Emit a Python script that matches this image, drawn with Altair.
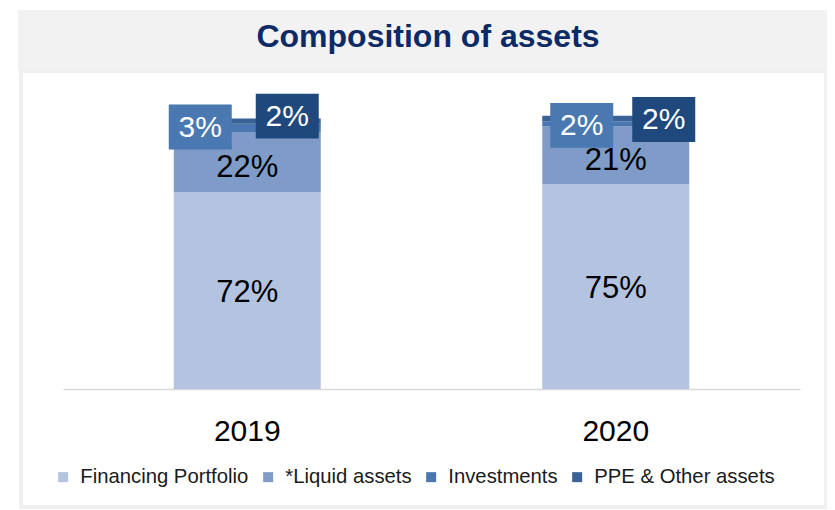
import altair as alt
import pandas as pd

# ---- data ----
TITLE = "Composition of assets"
YEARS = ["2019", "2020"]
SERIES = ["Financing Portfolio", "*Liquid assets", "Investments", "PPE & Other assets"]
FINANCING = [72, 75]
LIQUID = [22, 21]
INVESTMENTS = [3, 2]
PPE = [2, 2]

# ---- styling ----
FONT = "Liberation Sans"
COLORS = ["#b4c3df", "#7f9bc8", "#4a77b2", "#3b6296"]
BOX_COLORS = {"Investments": "#4a78b0", "PPE & Other assets": "#1f497d"}
# label box offsets (pixels) relative to segment middle: (dx, dy)
BOX_OFFSETS = {
    ("2019", "Investments"): (-47, -1),
    ("2019", "PPE & Other assets"): (40, -5),
    ("2020", "Investments"): (-34, 1.5),
    ("2020", "PPE & Other assets"): (48, 1),
}
W, H = 737, 328
PAD = {"left": 55, "top": 53, "right": 27, "bottom": 121}

rows = []
for s_i, (s, vals) in enumerate(zip(SERIES, [FINANCING, LIQUID, INVESTMENTS, PPE])):
    for y, v in zip(YEARS, vals):
        rows.append({"year": y, "series": s, "value": v, "order": s_i,
                     "label": f"{v}%"})
df = pd.DataFrame(rows)

base = alt.Chart(df).transform_window(
    cum="sum(value)", groupby=["year"], sort=[alt.SortField("order")],
    frame=[None, 0]
).transform_calculate(mid="datum.cum - datum.value / 2")

xenc = alt.X("year:N", sort=YEARS,
             scale=alt.Scale(paddingInner=0.1, paddingOuter=0.05),
             axis=alt.Axis(title=None, labelAngle=0, labelFontSize=30,
                           labelFont=FONT, labelColor="#000000", ticks=False,
                           domainColor="#d9d9d9", domainWidth=1.5,
                           labelPadding=27))
yscale = alt.Scale(domain=[0, 120])

deco = pd.DataFrame({"t": [TITLE]})
band = alt.Chart(deco).mark_rect(color="#f2f2f2").encode(
    x=alt.value(-45), x2=alt.value(764), y=alt.value(-51), y2=alt.value(9))
frame = alt.Chart(deco).mark_rect(fill=None, stroke="#f0f0f0", strokeWidth=4).encode(
    x=alt.value(-42), x2=alt.value(763), y=alt.value(10), y2=alt.value(446))
title = alt.Chart(deco).mark_text(font=FONT, fontSize=32, fontWeight="bold",
                                  color="#0c2a66", baseline="alphabetic").encode(
    text="t:N", x=alt.value(365), y=alt.value(-14))

bars = alt.Chart(df).mark_bar(size=147).encode(
    x=xenc,
    y=alt.Y("value:Q", stack="zero", scale=yscale, axis=None),
    color=alt.Color("series:N", sort=SERIES,
                    scale=alt.Scale(domain=SERIES, range=COLORS),
                    legend=alt.Legend(title=None, orient="none", direction="horizontal",
                                      legendX=-10, legendY=406, symbolType="square",
                                      symbolSize=100, symbolStrokeWidth=0,
                                      labelFont=FONT, labelFontSize=20.3,
                                      labelColor="#1a1a1a", labelOffset=7,
                                      labelLimit=400, gridAlign="none",
                                      columnPadding=9, padding=0)),
    order=alt.Order("order:Q"),
)

fin_txt = base.transform_filter("datum.order == 0").mark_text(
    font=FONT, fontSize=31, color="#000000", dy=2).encode(
    x=alt.X("year:N", sort=YEARS), y=alt.Y("mid:Q", scale=yscale), text="label:N")
liq_txt = base.transform_filter("datum.order == 1").mark_text(
    font=FONT, fontSize=31, color="#000000", dy=6).encode(
    x=alt.X("year:N", sort=YEARS), y=alt.Y("mid:Q", scale=yscale), text="label:N")

box_layers = []
for (yr, s), (dx, dy) in BOX_OFFSETS.items():
    b = base.transform_filter(
        f"datum.year == '{yr}' && datum.series == '{s}'")
    box = b.mark_point(shape="M-1,-0.714L1,-0.714L1,0.714L-1,0.714Z", size=3969,
                       filled=True, opacity=1, strokeWidth=0,
                       color=BOX_COLORS[s], xOffset=dx, yOffset=dy).encode(
        x=alt.X("year:N", sort=YEARS), y=alt.Y("mid:Q", scale=yscale))
    txt = b.mark_text(font=FONT, fontSize=30, color="#ffffff",
                      dx=dx, dy=dy + 1).encode(
        x=alt.X("year:N", sort=YEARS), y=alt.Y("mid:Q", scale=yscale),
        text="label:N")
    box_layers += [box, txt]

chart = alt.layer(band, frame, title, bars, fin_txt, liq_txt, *box_layers).properties(
    width=W, height=H, padding=PAD, autosize=alt.AutoSizeParams(type="none"),
    background="#ffffff"
).configure_view(strokeWidth=0, stroke="transparent")

chart.save("out.html", embed_options={"renderer": "svg", "actions": False})
